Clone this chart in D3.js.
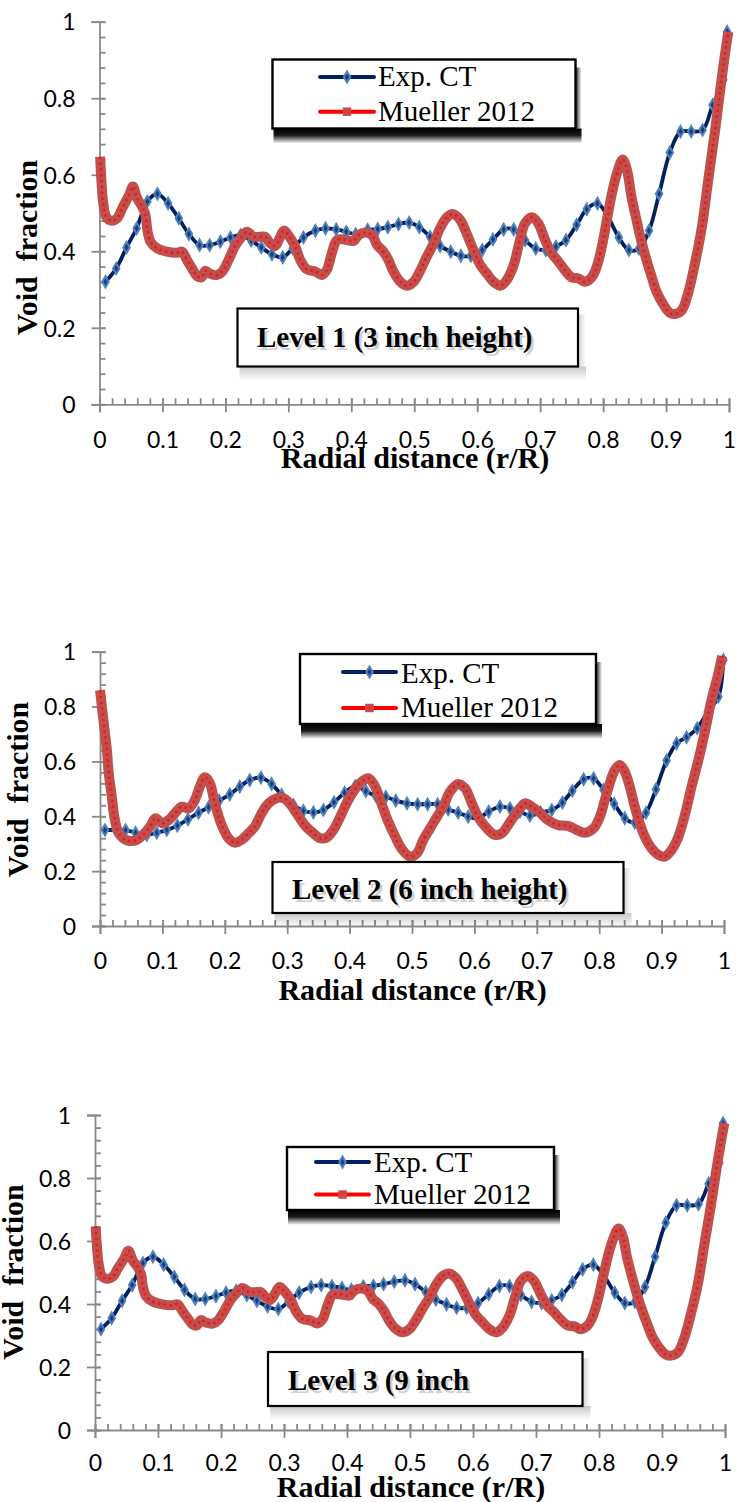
<!DOCTYPE html>
<html><head><meta charset="utf-8">
<script src="https://cdn.jsdelivr.net/npm/d3@7"></script>
<style>body{margin:0;background:#fff} svg{display:block}</style>
</head><body>
<svg id="chart" width="736" height="1502"></svg>
<script>
// ---------------- DATA ----------------
const seriesNames = ["Exp. CT", "Mueller 2012"];
const levelLabels = ["Level 1 (3 inch height)", "Level 2 (6 inch height)", "Level 3 (9 inch"];
const xTickValues = [0,0.1,0.2,0.3,0.4,0.5,0.6,0.7,0.8,0.9,1];
const xTickLabels = ["0","0.1","0.2","0.3","0.4","0.5","0.6","0.7","0.8","0.9","1"];
const yTickValues = [0,0.2,0.4,0.6,0.8,1];
const yTickLabels = ["0","0.2","0.4","0.6","0.8","1"];
const xTitle = "Radial distance (r/R)";
const yTitle = "Void  fraction";

// Level 1 – Exp. CT
const level1ExpX = [0.0095,0.0265,0.043,0.059,0.076,0.092,0.109,0.126,0.142,0.159,0.175,0.192,0.208,0.224,0.241,0.257,0.274,0.291,0.307,0.324,0.343,0.359,0.376,0.392,0.407,0.426,0.442,0.458,0.475,0.492,0.508,0.525,0.541,0.558,0.574,0.590,0.608,0.625,0.642,0.658,0.676,0.693,0.709,0.725,0.741,0.758,0.774,0.791,0.807,0.825,0.841,0.857,0.873,0.889,0.906,0.923,0.940,0.958,0.974,0.991,0.997];
const level1ExpY = [0.320,0.355,0.410,0.460,0.530,0.550,0.525,0.486,0.445,0.416,0.416,0.425,0.436,0.442,0.428,0.410,0.392,0.384,0.408,0.436,0.454,0.460,0.457,0.451,0.445,0.456,0.458,0.463,0.471,0.475,0.463,0.438,0.414,0.399,0.388,0.388,0.403,0.431,0.457,0.457,0.429,0.407,0.403,0.412,0.429,0.469,0.510,0.525,0.492,0.436,0.403,0.407,0.454,0.550,0.658,0.713,0.713,0.717,0.782,0.848,0.974];
// Level 1 – Mueller 2012
const level1MueX = [0.001,0.003,0.006,0.011,0.019,0.028,0.036,0.047,0.053,0.060,0.068,0.073,0.076,0.081,0.0915,0.107,0.123,0.131,0.139,0.147,0.155,0.162,0.168,0.176,0.187,0.195,0.205,0.216,0.226,0.234,0.245,0.256,0.263,0.271,0.279,0.287,0.293,0.300,0.311,0.319,0.329,0.343,0.353,0.361,0.369,0.377,0.388,0.404,0.411,0.422,0.433,0.441,0.451,0.459,0.467,0.478,0.488,0.499,0.510,0.520,0.531,0.541,0.552,0.562,0.573,0.583,0.594,0.605,0.615,0.626,0.637,0.647,0.658,0.668,0.676,0.687,0.697,0.708,0.718,0.729,0.740,0.750,0.761,0.771,0.782,0.790,0.798,0.806,0.814,0.822,0.831,0.838,0.845,0.853,0.861,0.869,0.877,0.885,0.896,0.906,0.914,0.925,0.935,0.946,0.957,0.967,0.978,0.986,0.993,0.999];
const level1MueY = [0.647,0.586,0.525,0.489,0.480,0.486,0.512,0.547,0.569,0.538,0.516,0.495,0.456,0.425,0.408,0.399,0.396,0.399,0.377,0.355,0.335,0.332,0.349,0.341,0.338,0.347,0.377,0.416,0.438,0.451,0.438,0.438,0.438,0.421,0.414,0.438,0.454,0.442,0.412,0.377,0.353,0.347,0.338,0.351,0.395,0.429,0.431,0.427,0.442,0.449,0.442,0.416,0.399,0.377,0.347,0.320,0.310,0.320,0.351,0.386,0.421,0.460,0.489,0.497,0.482,0.447,0.403,0.364,0.342,0.320,0.310,0.325,0.364,0.430,0.473,0.489,0.473,0.429,0.395,0.373,0.349,0.332,0.329,0.320,0.332,0.360,0.412,0.482,0.551,0.604,0.640,0.612,0.543,0.482,0.425,0.377,0.334,0.294,0.260,0.239,0.236,0.246,0.290,0.369,0.464,0.586,0.717,0.822,0.908,0.974];

// Level 2 – Exp. CT
const level2ExpX = [0.008,0.025,0.041,0.057,0.075,0.091,0.107,0.124,0.141,0.158,0.174,0.191,0.208,0.224,0.240,0.258,0.275,0.291,0.310,0.326,0.342,0.358,0.375,0.392,0.409,0.426,0.442,0.458,0.474,0.492,0.509,0.525,0.541,0.558,0.574,0.590,0.606,0.623,0.641,0.657,0.673,0.689,0.706,0.724,0.741,0.757,0.775,0.791,0.807,0.824,0.841,0.857,0.875,0.891,0.908,0.924,0.940,0.957,0.974,0.991,0.999];
const level2ExpY = [0.350,0.350,0.350,0.340,0.332,0.340,0.350,0.366,0.389,0.413,0.433,0.457,0.480,0.508,0.532,0.541,0.518,0.478,0.441,0.420,0.414,0.423,0.451,0.486,0.510,0.492,0.474,0.471,0.457,0.447,0.444,0.444,0.444,0.425,0.413,0.399,0.393,0.417,0.435,0.429,0.417,0.402,0.414,0.423,0.450,0.493,0.535,0.538,0.496,0.445,0.393,0.377,0.413,0.498,0.603,0.666,0.688,0.721,0.781,0.836,0.970];
// Level 2 – Mueller 2012
const level2MueX = [0.000,0.003,0.007,0.011,0.014,0.019,0.023,0.029,0.037,0.048,0.059,0.069,0.080,0.089,0.099,0.110,0.120,0.131,0.142,0.152,0.160,0.168,0.176,0.184,0.195,0.206,0.216,0.227,0.238,0.248,0.259,0.270,0.283,0.294,0.304,0.315,0.329,0.339,0.353,0.363,0.374,0.385,0.395,0.406,0.417,0.430,0.441,0.451,0.462,0.473,0.483,0.497,0.508,0.518,0.529,0.540,0.550,0.561,0.574,0.585,0.596,0.606,0.620,0.633,0.644,0.654,0.665,0.673,0.681,0.692,0.705,0.718,0.734,0.750,0.764,0.777,0.791,0.801,0.809,0.817,0.825,0.833,0.841,0.849,0.857,0.865,0.873,0.884,0.895,0.905,0.916,0.927,0.938,0.948,0.959,0.970,0.980,0.991,0.997];
const level2MueY = [0.860,0.800,0.721,0.642,0.557,0.471,0.398,0.344,0.320,0.310,0.314,0.332,0.362,0.393,0.375,0.386,0.411,0.435,0.429,0.459,0.508,0.542,0.521,0.447,0.368,0.320,0.304,0.314,0.338,0.362,0.411,0.447,0.466,0.466,0.447,0.411,0.365,0.344,0.320,0.322,0.350,0.398,0.447,0.490,0.521,0.539,0.508,0.447,0.380,0.326,0.283,0.253,0.265,0.314,0.356,0.398,0.435,0.490,0.518,0.502,0.447,0.398,0.356,0.332,0.338,0.368,0.405,0.429,0.447,0.435,0.413,0.386,0.368,0.365,0.350,0.340,0.356,0.398,0.459,0.521,0.569,0.587,0.563,0.508,0.435,0.374,0.326,0.283,0.259,0.253,0.277,0.326,0.411,0.508,0.605,0.715,0.824,0.921,0.984];

// Level 3 – plotted with the same profiles as Level 1 in the source figure
const level3ExpX = level1ExpX, level3ExpY = level1ExpY;
const level3MueX = level1MueX, level3MueY = level1MueY;

// ---------------- LAYOUT ----------------
const panels = [
  {x0:99.5, x1:729, yb:404.3, yt:21.7, ex:level1ExpX, ey:level1ExpY, mx:level1MueX, my:level1MueY,
   leg:{box:[272.5,59.5,303,69], lx:[320,374], ly:[77,111.7], tx:378, tb:[86,121]},
   lab:{box:[237.5,308.5,340.5,58], tx:257, tb:346.7, text:levelLabels[0]},
   yt2:{x:37, y:247.5}, xt:{x:415, y:468}, xl:43.5},
  {x0:100, x1:724, yb:926, yt:651.7, ex:level2ExpX, ey:level2ExpY, mx:level2MueX, my:level2MueY,
   leg:{box:[300,654,296,70], lx:[343,396], ly:[672,708], tx:401, tb:[682.5,717]},
   lab:{box:[272.5,862,351,51], tx:292, tb:898.5, text:levelLabels[1]},
   yt2:{x:28, y:789.5}, xt:{x:412.6, y:1000}, xl:42.5},
  {x0:95, x1:725, yb:1430, yt:1115, ex:level3ExpX, ey:level3ExpY, mx:level3MueX, my:level3MueY,
   leg:{box:[287,1147,267,63], lx:[316,369], ly:[1162,1194.5], tx:374, tb:[1171.7,1203.5]},
   lab:{box:[268,1352,314.5,54], tx:288, tb:1390, text:levelLabels[2]},
   yt2:{x:23, y:1272}, xt:{x:411, y:1497}, xl:40.5}
];

const AXIS = "#898989";
const NAVY = "#002060", DIAFILL = "#1c3f78", DIASTROKE = "#4F81BD";
const BAND = "#C0504D", RED = "#FF0000";
const SERIF = "'Liberation Serif','Times New Roman',Times,serif";
const SANS = "Lato, 'Open Sans', sans-serif";

const svg = d3.select("#chart");
svg.append("rect").attr("width",736).attr("height",1502).attr("fill","#fff");
const defs = svg.append("defs");
function grad(id, x2, y2, stops){
  const lg = defs.append("linearGradient").attr("id",id)
    .attr("x1",0).attr("y1",0).attr("x2",x2).attr("y2",y2);
  stops.forEach(s => lg.append("stop").attr("offset",s[0]).attr("stop-color","#000").attr("stop-opacity",s[1]));
}
grad("legDown", 0, 1, [[0,1],[0.45,0.9],[0.75,0.4],[1,0]]);
grad("legRight", 1, 0, [[0,0.9],[1,0]]);
grad("labDown", 0, 1, [[0,0.22],[1,0]]);
grad("labRight", 1, 0, [[0,0.18],[1,0]]);

const diamond = d3.symbol().type(d3.symbolDiamond).size(36);

panels.forEach(p => {
  const g = svg.append("g");
  const xs = d3.scaleLinear().domain([0,1]).range([p.x0,p.x1]);
  const ys = d3.scaleLinear().domain([0,1]).range([p.yb,p.yt]);

  // minor ticks (inside)
  const yMinor = g.append("g").attr("transform",`translate(${p.x0},0)`)
    .call(d3.axisLeft(ys).tickValues(d3.range(0,1.0001,0.04)).tickSize(-6).tickFormat(""));
  yMinor.select(".domain").remove();
  const xMinor = g.append("g").attr("transform",`translate(0,${p.yb})`)
    .call(d3.axisBottom(xs).tickValues(d3.range(0,1.0001,0.02)).tickSize(-6).tickFormat(""));
  xMinor.select(".domain").remove();

  // major axes
  const yAx = g.append("g").attr("transform",`translate(${p.x0},0)`)
    .call(d3.axisLeft(ys).tickValues(yTickValues).tickSizeOuter(0).tickSize(8).tickFormat((d,i)=>yTickLabels[i]));
  yAx.selectAll(".tick line").attr("x1",6);
  yAx.selectAll(".tick text").attr("x",-24).attr("dy","0.36em")
    .style("font-family",SANS).style("font-size","23px").attr("fill","#000");
  const xAx = g.append("g").attr("transform",`translate(0,${p.yb})`)
    .call(d3.axisBottom(xs).tickValues(xTickValues).tickSizeOuter(0).tickSize(8).tickFormat((d,i)=>xTickLabels[i]));
  xAx.selectAll(".tick line").attr("y1",-6);
  xAx.selectAll(".tick text").attr("y",p.xl).attr("dy",0)
    .style("font-family",SANS).style("font-size","23px").attr("fill","#000");
  g.selectAll(".domain, .tick line").attr("stroke",AXIS).attr("stroke-width",1.8);

  // series
  const line = d3.line().x(d=>xs(d[0])).y(d=>ys(d[1])).curve(d3.curveCatmullRom.alpha(0.5));
  const exp = p.ex.map((x,i)=>[x,p.ey[i]]);
  const mue = p.mx.map((x,i)=>[x,p.my[i]]);

  g.append("path").datum(exp).attr("d",line).attr("fill","none")
    .attr("stroke",NAVY).attr("stroke-width",3.8).attr("stroke-linejoin","round");
  g.append("g").selectAll("path").data(exp).join("path")
    .attr("transform",d=>`translate(${xs(d[0])},${ys(d[1])})`).attr("d",diamond)
    .attr("fill",DIAFILL).attr("stroke",DIASTROKE).attr("stroke-width",2);

  g.append("path").datum(mue).attr("d",line).attr("fill","none")
    .attr("stroke",BAND).attr("stroke-width",10).attr("stroke-linejoin","round").attr("stroke-linecap","butt");
  g.append("path").datum(mue).attr("d",line).attr("fill","none")
    .attr("stroke",RED).attr("stroke-width",2.6).attr("stroke-dasharray","2.4,3.4").attr("opacity",0.7);

  // legend (with heavy drop shadow)
  const L = p.leg;
  g.append("rect").attr("x",L.box[0]+1).attr("y",L.box[1]+L.box[3]).attr("width",L.box[2]+5).attr("height",15)
    .attr("fill","url(#legDown)");
  g.append("rect").attr("x",L.box[0]+L.box[2]).attr("y",L.box[1]+8).attr("width",6).attr("height",L.box[3]-8)
    .attr("fill","url(#legRight)");
  g.append("rect").attr("x",L.box[0]).attr("y",L.box[1]).attr("width",L.box[2]).attr("height",L.box[3])
    .attr("fill","#fff").attr("stroke","#000").attr("stroke-width",2.4);
  const lmid = (L.lx[0]+L.lx[1])/2;
  g.append("line").attr("x1",L.lx[0]).attr("x2",L.lx[1]).attr("y1",L.ly[0]).attr("y2",L.ly[0])
    .attr("stroke",NAVY).attr("stroke-width",4).attr("stroke-linecap","round");
  g.append("path").attr("transform",`translate(${lmid},${L.ly[0]})`).attr("d",diamond)
    .attr("fill",DIAFILL).attr("stroke",DIASTROKE).attr("stroke-width",2);
  g.append("line").attr("x1",L.lx[0]).attr("x2",L.lx[1]).attr("y1",L.ly[1]).attr("y2",L.ly[1])
    .attr("stroke",RED).attr("stroke-width",4).attr("stroke-linecap","round");
  g.append("rect").attr("x",lmid-3.5).attr("y",L.ly[1]-3.5).attr("width",7).attr("height",7)
    .attr("fill","#d9403c").attr("stroke",BAND).attr("stroke-width",1.5);
  seriesNames.forEach((s,i)=>{
    g.append("text").attr("x",L.tx).attr("y",L.tb[i]).text(s)
      .style("font-family",SERIF).style("font-size","29px").attr("fill","#000");
  });

  // level label (soft shadow + shadowed bold text)
  const B = p.lab;
  g.append("rect").attr("x",B.box[0]+2).attr("y",B.box[1]+B.box[3]).attr("width",B.box[2]+6).attr("height",14)
    .attr("fill","url(#labDown)");
  g.append("rect").attr("x",B.box[0]+B.box[2]).attr("y",B.box[1]+6).attr("width",8).attr("height",B.box[3]-6)
    .attr("fill","url(#labRight)");
  g.append("rect").attr("x",B.box[0]).attr("y",B.box[1]).attr("width",B.box[2]).attr("height",B.box[3])
    .attr("fill","#fff").attr("stroke","#000").attr("stroke-width",2.2);
  g.append("text").attr("x",B.tx+2.5).attr("y",B.tb+3).text(B.text)
    .style("font-family",SERIF).style("font-size","29px").style("font-weight","bold").attr("fill","#000").attr("opacity",0.18);
  g.append("text").attr("x",B.tx).attr("y",B.tb).text(B.text)
    .style("font-family",SERIF).style("font-size","29px").style("font-weight","bold").attr("fill","#000");

  // axis titles
  g.append("text").attr("transform",`translate(${p.yt2.x},${p.yt2.y}) rotate(-90)`)
    .attr("text-anchor","middle").style("white-space","pre").text(yTitle)
    .style("font-family",SERIF).style("font-size","30px").style("font-weight","bold").attr("fill","#000");
  g.append("text").attr("x",p.xt.x).attr("y",p.xt.y).attr("text-anchor","middle").text(xTitle)
    .style("font-family",SERIF).style("font-size","30px").style("font-weight","bold").attr("fill","#000");
});
</script>
</body></html>
